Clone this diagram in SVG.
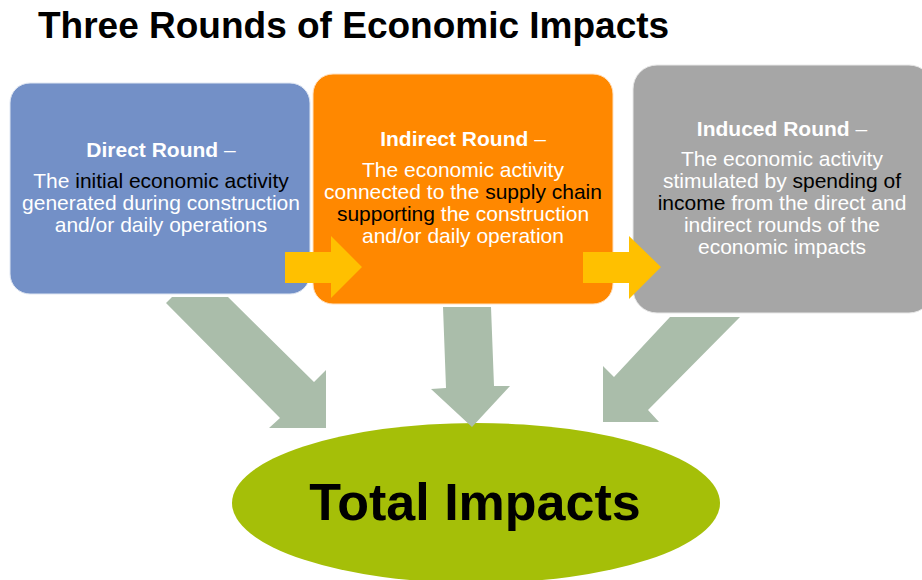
<svg xmlns="http://www.w3.org/2000/svg" width="922" height="580" viewBox="0 0 922 580">
  <style>
    .title { font-family: "Liberation Sans", Arial, sans-serif; font-weight: bold; font-size: 37px; fill: #000; }
    .box-text { font-family: "Liberation Sans", Arial, sans-serif; font-size: 21px; fill: #fff; text-anchor: middle; }
    .hd { font-weight: bold; }
    .hl { fill: #000; }
    .flow { fill: #FFC000; }
    .down { fill: #AABDAA; }
    .total { font-family: "Liberation Sans", Arial, sans-serif; font-weight: bold; font-size: 52px; fill: #000; text-anchor: middle; }
  </style>
  <rect width="922" height="580" fill="#fff"/>
  <text class="title" x="38" y="38">Three Rounds of Economic Impacts</text>

  <g id="direct">
    <rect x="10" y="83" width="300" height="211" rx="20" ry="20" fill="#7390C7" stroke="#dfe6f2" stroke-width="1"/>
    <text class="box-text" x="161" y="157"><tspan class="hd">Direct Round</tspan> –</text>
    <text class="box-text" x="161" y="188">The <tspan class="hl">initial economic activity</tspan></text>
    <text class="box-text" x="161" y="210">generated during construction</text>
    <text class="box-text" x="161" y="232">and/or daily operations</text>
  </g>

  <g id="indirect">
    <rect x="313" y="74" width="300" height="230" rx="20" ry="20" fill="#FF8800" stroke="#ffe0bf" stroke-width="1"/>
    <text class="box-text" x="463" y="146"><tspan class="hd">Indirect Round</tspan> –</text>
    <text class="box-text" x="463" y="177">The economic activity</text>
    <text class="box-text" x="463" y="199">connected to the <tspan class="hl">supply chain</tspan></text>
    <text class="box-text" x="463" y="221"><tspan class="hl">supporting</tspan> the construction</text>
    <text class="box-text" x="463" y="243">and/or daily operation</text>
  </g>

  <g id="induced">
    <rect x="633" y="65" width="300" height="248" rx="24" ry="24" fill="#A6A6A6" stroke="#e8e8e8" stroke-width="1"/>
    <text class="box-text" x="782" y="136"><tspan class="hd">Induced Round</tspan> –</text>
    <text class="box-text" x="782" y="166">The economic activity</text>
    <text class="box-text" x="782" y="188">stimulated by <tspan class="hl">spending of</tspan></text>
    <text class="box-text" x="782" y="210"><tspan class="hl">income</tspan> from the direct and</text>
    <text class="box-text" x="782" y="232">indirect rounds of the</text>
    <text class="box-text" x="782" y="254">economic impacts</text>
  </g>

  <g id="total">
    <ellipse cx="476" cy="503" rx="244" ry="80" fill="#A5BF08"/>
    <text class="total" x="475" y="520">Total Impacts</text>
  </g>

  <g id="connectors">
    <polygon class="flow" points="285,252 331,252 331,236 362,267 331,298 331,283 285,283"/>
    <polygon class="flow" points="583,252 629,252 629,236 661,267 629,299 629,283 583,283"/>
    <polygon class="down" points="166,303 172,297 228,297 314,382 326,370 326,428 269,428 280,418"/>
    <polygon class="down" points="443,307 491,307 494,386 510,386 472,427 431,389 446,388"/>
    <polygon class="down" points="670,317 740,317 648,410 659,422 603,422 603,366 614,377"/>
  </g>
</svg>
